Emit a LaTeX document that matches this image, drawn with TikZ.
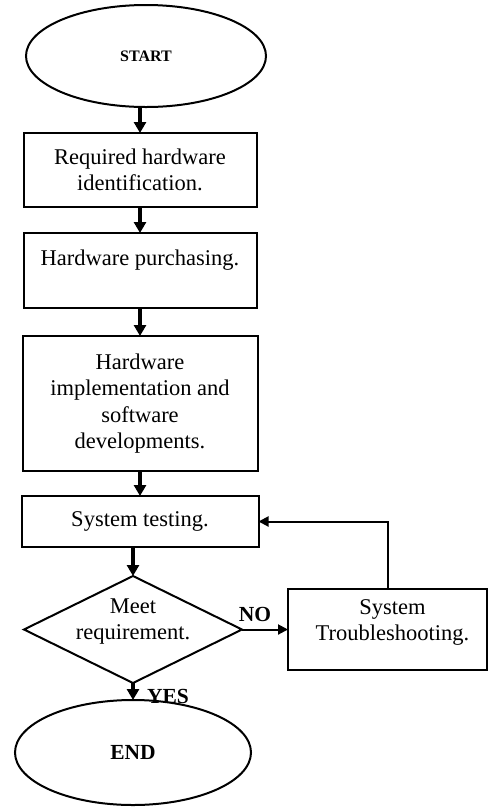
\documentclass[tikz,border=0pt]{standalone}
\usepackage{fontspec}
\setmainfont{Liberation Serif}
\usetikzlibrary{positioning,shapes.geometric,arrows.meta}

\begin{document}
\begin{tikzpicture}[%
    ->,
    >={Triangle[width=12pt,length=11pt]},
    line width=2pt,
    every edge/.style={draw, line width=3.6pt},
    node distance=26pt,
    font=\fontsize{22.5}{26.5}\selectfont,
    box/.style={%
      rectangle,
      align=center,
      line width=2pt,
      minimum width=233pt,
      minimum height=74pt,
      inner sep=0pt,
      outer sep=0pt,
      draw
    },
    term/.style={%
      ellipse,
      line width=2pt,
      inner sep=0pt,
      outer sep=0pt,
      font=\fontsize{21.5}{24}\selectfont\bfseries,
      draw
    },
    decision/.style={%
      diamond,
      aspect=2,
      line width=2pt,
      minimum width=218pt,
      minimum height=107pt,
      inner sep=0pt,
      outer sep=0pt,
      draw
    },
    thinarrow/.style={line width=2pt, >={Triangle[width=10pt,length=10pt]}},
    lbl/.style={font=\fontsize{21.5}{24}\selectfont\bfseries}
  ]
    \useasboundingbox (0,0) rectangle (488pt,-807pt);

    \node[term, minimum width=240pt, minimum height=102pt,
          font=\fontsize{16}{18}\selectfont\bfseries] (1) at (146pt,-56pt) {START};
    \node[box] (2) [below=26pt of 1, xshift=-6pt] {Required hardware\\identification.};
    \node[box, minimum height=75pt] (3) [below=26pt of 2] {Hardware purchasing.\\~};
    \node[box, minimum width=235pt, minimum height=135pt] (4) [below=28pt of 3]
      {Hardware\\implementation and\\software\\developments.};
    \node[box, minimum width=237pt, minimum height=51pt] (5) [below=25pt of 4] {System testing.};
    \node[decision, label={[align=center, yshift=8pt]center:Meet\\requirement.}] (6)
      [below=29pt of 5, xshift=-7pt] {};
    \node[box, minimum width=199pt, minimum height=81pt,
          label={[align=center, yshift=7pt, xshift=5pt]center:System\\Troubleshooting.}] (7)
      [right=46pt of 6] {};
    \node[term, minimum width=236pt, minimum height=105pt] (8) [below=17pt of 6] {END};

    \path (2.north |- 1.south) edge node {} (2)
          (2) edge node {} (3)
          (3) edge node {} (4)
          (4) edge node {} (5)
          (5.south -| 6) edge node {} (6)
          (6) edge[thinarrow] node[lbl, above=3pt, pos=0.28] {NO} (7)
          (6) edge node[lbl, right=9pt, pos=0.8] {YES} (8);
    \draw[thinarrow] (7) |- (5);
\end{tikzpicture}
\end{document}
